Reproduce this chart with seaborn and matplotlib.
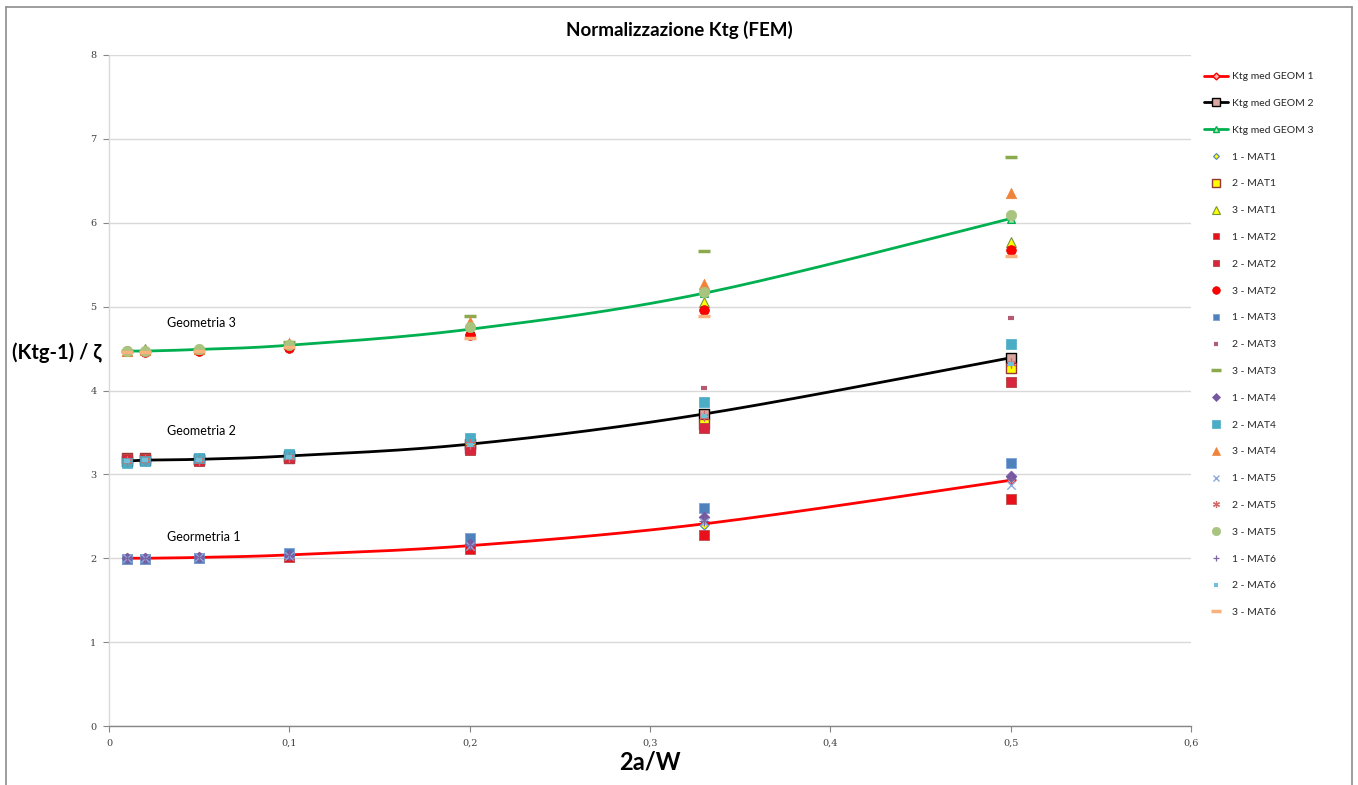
import numpy as np
import pandas as pd
import matplotlib
matplotlib.use("Agg")
import matplotlib.pyplot as plt
from matplotlib.lines import Line2D
import seaborn as sns

# ---------------- data ----------------
x_vals = [0.01, 0.02, 0.05, 0.1, 0.2, 0.33, 0.5]

mean_geom1 = [2.00, 2.00, 2.01, 2.04, 2.15, 2.41, 2.93]
mean_geom2 = [3.16, 3.17, 3.18, 3.22, 3.36, 3.72, 4.39]
mean_geom3 = [4.47, 4.47, 4.49, 4.54, 4.73, 5.16, 6.05]

# geometry 1
g1_mat1 = [2.00, 2.00, 2.01, 2.03, 2.15, 2.40, 2.97]
g1_mat2 = [1.99, 1.99, 2.00, 2.02, 2.11, 2.28, 2.71]
g1_mat3 = [1.99, 1.99, 2.00, 2.06, 2.24, 2.60, 3.13]
g1_mat4 = [2.00, 2.00, 2.01, 2.04, 2.17, 2.49, 2.98]
g1_mat5 = [2.00, 2.00, 2.01, 2.03, 2.15, 2.43, 2.87]
g1_mat6 = [2.00, 2.00, 2.01, 2.04, 2.16, 2.45, 2.95]
# geometry 2
g2_mat1 = [3.19, 3.19, 3.17, 3.20, 3.32, 3.60, 4.27]
g2_mat2 = [3.18, 3.18, 3.16, 3.19, 3.29, 3.55, 4.10]
g2_mat3 = [3.17, 3.17, 3.17, 3.25, 3.46, 4.03, 4.86]
g2_mat4 = [3.14, 3.16, 3.19, 3.24, 3.43, 3.86, 4.56]
g2_mat5 = [3.16, 3.17, 3.17, 3.21, 3.36, 3.70, 4.33]
g2_mat6 = [3.16, 3.17, 3.17, 3.21, 3.35, 3.70, 4.32]
# geometry 3
g3_mat1 = [4.47, 4.50, 4.49, 4.55, 4.72, 5.05, 5.77]
g3_mat2 = [4.47, 4.46, 4.47, 4.51, 4.66, 4.96, 5.67]
g3_mat3 = [4.47, 4.47, 4.50, 4.58, 4.89, 5.66, 6.78]
g3_mat4 = [4.47, 4.48, 4.50, 4.57, 4.82, 5.27, 6.36]
g3_mat5 = [4.47, 4.47, 4.49, 4.54, 4.76, 5.17, 6.09]
g3_mat6 = [4.46, 4.46, 4.47, 4.52, 4.62, 4.89, 5.60]

mean_labels = ["Ktg med GEOM 1", "Ktg med GEOM 2", "Ktg med GEOM 3"]
series_labels = ["1 - MAT1", "2 - MAT1", "3 - MAT1",
                 "1 - MAT2", "2 - MAT2", "3 - MAT2",
                 "1 - MAT3", "2 - MAT3", "3 - MAT3",
                 "1 - MAT4", "2 - MAT4", "3 - MAT4",
                 "1 - MAT5", "2 - MAT5", "3 - MAT5",
                 "1 - MAT6", "2 - MAT6", "3 - MAT6"]
series_values = [g1_mat1, g2_mat1, g3_mat1,
                 g1_mat2, g2_mat2, g3_mat2,
                 g1_mat3, g2_mat3, g3_mat3,
                 g1_mat4, g2_mat4, g3_mat4,
                 g1_mat5, g2_mat5, g3_mat5,
                 g1_mat6, g2_mat6, g3_mat6]

x_ticks = [0, 0.1, 0.2, 0.3, 0.4, 0.5, 0.6]
x_tick_labels = ["0", "0,1", "0,2", "0,3", "0,4", "0,5", "0,6"]
y_ticks = [0, 1, 2, 3, 4, 5, 6, 7, 8]
y_tick_labels = ["0", "1", "2", "3", "4", "5", "6", "7", "8"]

annot_texts = ["Geometria 3", "Geometria 2", "Geormetria 1"]
annot_x = [0.032, 0.032, 0.032]
annot_y = [4.80, 3.52, 2.25]

# ---------------- styles ----------------
mean_styles = [
    dict(color="#FF0000", marker="D", mfc="#F4B6B6", mec="#FF0000", ms=4.5),
    dict(color="#000000", marker="s", mfc="#D9A7A0", mec="#000000", ms=6.5),
    dict(color="#00B050", marker="^", mfc="#B6E3B0", mec="#00B050", ms=5.5),
]
point_styles = [
    dict(marker="D", fc="#FFFF00", ec="#4F81BD", ms=4.5, mew=0.8),
    dict(marker="s", fc="#FFFF00", ec="#953735", ms=7, mew=1.0),
    dict(marker="^", fc="#FFFF00", ec="#77933C", ms=7, mew=0.8),
    dict(marker="s", fc="#E8101A", ec="#C0504D", ms=6.5, mew=0.6),
    dict(marker="s", fc="#D7263D", ec="#B0413E", ms=6.5, mew=0.6),
    dict(marker="o", fc="#FF0000", ec="#E00000", ms=7, mew=0.5),
    dict(marker="s", fc="#4F81BD", ec="#7BA3D8", ms=6.5, mew=0.6),
    dict(marker="_", fc="#B65A72", ec="#B65A72", ms=5, mew=3.0),
    dict(marker="_", fc="#8BAA4E", ec="#8BAA4E", ms=8, mew=2.5),
    dict(marker="D", fc="#7558A0", ec="#7558A0", ms=5.5, mew=0.5),
    dict(marker="s", fc="#4BACC6", ec="#4BACC6", ms=7, mew=0.5),
    dict(marker="^", fc="#F0833A", ec="#F0833A", ms=7.5, mew=0.5),
    dict(marker="x", fc="#8EA9DB", ec="#8EA9DB", ms=6, mew=1.0),
    dict(marker=(6, 2, 0), fc="#D46A6A", ec="#D46A6A", ms=6.5, mew=0.9),
    dict(marker="o", fc="#A9C47F", ec="#A9C47F", ms=7.5, mew=0.5),
    dict(marker="+", fc="#8064A2", ec="#8064A2", ms=6.5, mew=0.9),
    dict(marker="_", fc="#6FC0D8", ec="#6FC0D8", ms=5, mew=3.0),
    dict(marker="_", fc="#F9B27C", ec="#F9B27C", ms=8, mew=2.5),
]


def smooth_curve(xs, ys, n=40):
    """Catmull-Rom rendering of the polyline through the data points (Excel 'smoothed line')."""
    p = np.column_stack([xs, ys]).astype(float)
    out = []
    for i in range(len(p) - 1):
        p0 = p[i - 1] if i > 0 else p[i]
        p1, p2 = p[i], p[i + 1]
        p3 = p[i + 2] if i + 2 < len(p) else p[i + 1]
        t = np.linspace(0, 1, n)[:, None]
        seg = 0.5 * ((2 * p1) + (-p0 + p2) * t + (2 * p0 - 5 * p1 + 4 * p2 - p3) * t ** 2
                     + (-p0 + 3 * p1 - 3 * p2 + p3) * t ** 3)
        out.append(seg if i == 0 else seg[1:])
    out = np.vstack(out)
    return out[:, 0], out[:, 1]


# ---------------- figure ----------------
sns.set_theme(style="white")
plt.rcParams["font.family"] = ["Lato", "DejaVu Sans"]

fig = plt.figure(figsize=(13.58, 7.85), dpi=100)
ax = fig.add_axes([109 / 1358, 59 / 785, 1082 / 1358, 671 / 785])

# mean curves (with their markers)
for vals, st, lab in zip([mean_geom1, mean_geom2, mean_geom3], mean_styles, mean_labels):
    sx, sy = smooth_curve(x_vals, vals)
    dfl = pd.DataFrame({"x": sx, "y": sy})
    sns.lineplot(data=dfl, x="x", y="y", ax=ax, color=st["color"], lw=2.0,
                 sort=False, estimator=None, zorder=2)
    dfm = pd.DataFrame({"x": x_vals, "y": vals})
    sns.scatterplot(data=dfm, x="x", y="y", ax=ax, marker=st["marker"], s=st["ms"] ** 2,
                    color=st["mfc"], edgecolor=st["mec"], linewidths=1.0, zorder=2.5)

# individual series
for vals, st, lab in zip(series_values, point_styles, series_labels):
    dfp = pd.DataFrame({"x": x_vals, "y": vals})
    kw = dict(s=st["ms"] ** 2, marker=st["marker"], linewidths=st["mew"], zorder=3)
    if st["marker"] in ("x", "+", "_", (6, 2, 0)):
        sns.scatterplot(data=dfp, x="x", y="y", ax=ax, color=st["ec"], **kw)
    else:
        sns.scatterplot(data=dfp, x="x", y="y", ax=ax, color=st["fc"],
                        edgecolor=st["ec"], **kw)

# axes styling
ax.set_xlim(0, 0.6)
ax.set_ylim(0, 8)
ax.set_xticks(x_ticks)
ax.set_xticklabels(x_tick_labels)
ax.set_yticks(y_ticks)
ax.set_yticklabels(y_tick_labels)
for lab in ax.get_xticklabels() + ax.get_yticklabels():
    lab.set_family(["DejaVu Serif"])
    lab.set_fontsize(7)
    lab.set_color("#404040")
ax.tick_params(axis="both", which="major", direction="out", length=4, width=0.8,
               color="#868686", bottom=True, left=True, pad=5)
ax.grid(axis="y", color="#D9D9D9", lw=1.0)
ax.grid(axis="x", visible=False)
ax.set_axisbelow(True)
for s in ["top", "right"]:
    ax.spines[s].set_visible(False)
ax.spines["left"].set_color("#D9D9D9")
ax.spines["left"].set_linewidth(1.0)
ax.spines["bottom"].set_color("#868686")
ax.spines["bottom"].set_linewidth(1.0)

ax.set_xlabel("2a/W", fontsize=17, fontweight="bold", color="#000000")
ax.xaxis.set_label_coords(0.5, -0.054)
ax.xaxis.label.set_va("center")
ax.set_ylabel("(Ktg-1) / ζ", fontsize=14.5, fontweight="bold", rotation=0,
              color="#000000")
ax.yaxis.set_label_coords(-0.048, 0.557)
ax.yaxis.label.set_va("center")
ax.yaxis.label.set_ha("center")

for t, xx, yy in zip(annot_texts, annot_x, annot_y):
    ax.text(xx, yy, t, fontsize=9, color="#000000", ha="left", va="center")

fig.text(679 / 1358, 1 - 30 / 785, "Normalizzazione Ktg (FEM)", fontsize=13.5,
         fontweight="bold", ha="center", va="center", color="#000000")

# legend
handles = []
for st, lab in zip(mean_styles, mean_labels):
    handles.append(Line2D([], [], color=st["color"], lw=2, marker=st["marker"],
                          mfc=st["mfc"], mec=st["mec"], ms=st["ms"] - 1, label=lab))
for st, lab in zip(point_styles, series_labels):
    handles.append(Line2D([], [], ls="none", marker=st["marker"], mfc=st["fc"],
                          mec=st["ec"], ms=st["ms"] - 1.5, mew=st["mew"], label=lab))
leg = fig.legend(handles=handles, loc="upper left",
                 bbox_to_anchor=(1204 / 1358, 1 - 72 / 785), frameon=False,
                 fontsize=7.5, labelspacing=1.68, handlelength=2.3,
                 handletextpad=0.35, borderaxespad=0, borderpad=0)

# outer chart frame
frame_c = "#8C8C8C"
fig.add_artist(Line2D([6 / 1358, 6 / 1358], [0, 1 - 7 / 785], color=frame_c, lw=1.2,
                      transform=fig.transFigure))
fig.add_artist(Line2D([6 / 1358, 1352 / 1358], [1 - 7 / 785, 1 - 7 / 785], color=frame_c,
                      lw=1.2, transform=fig.transFigure))
fig.add_artist(Line2D([1352 / 1358, 1352 / 1358], [0, 1 - 7 / 785], color=frame_c, lw=1.2,
                      transform=fig.transFigure))

fig.savefig("out.png", dpi=100, facecolor="white")
